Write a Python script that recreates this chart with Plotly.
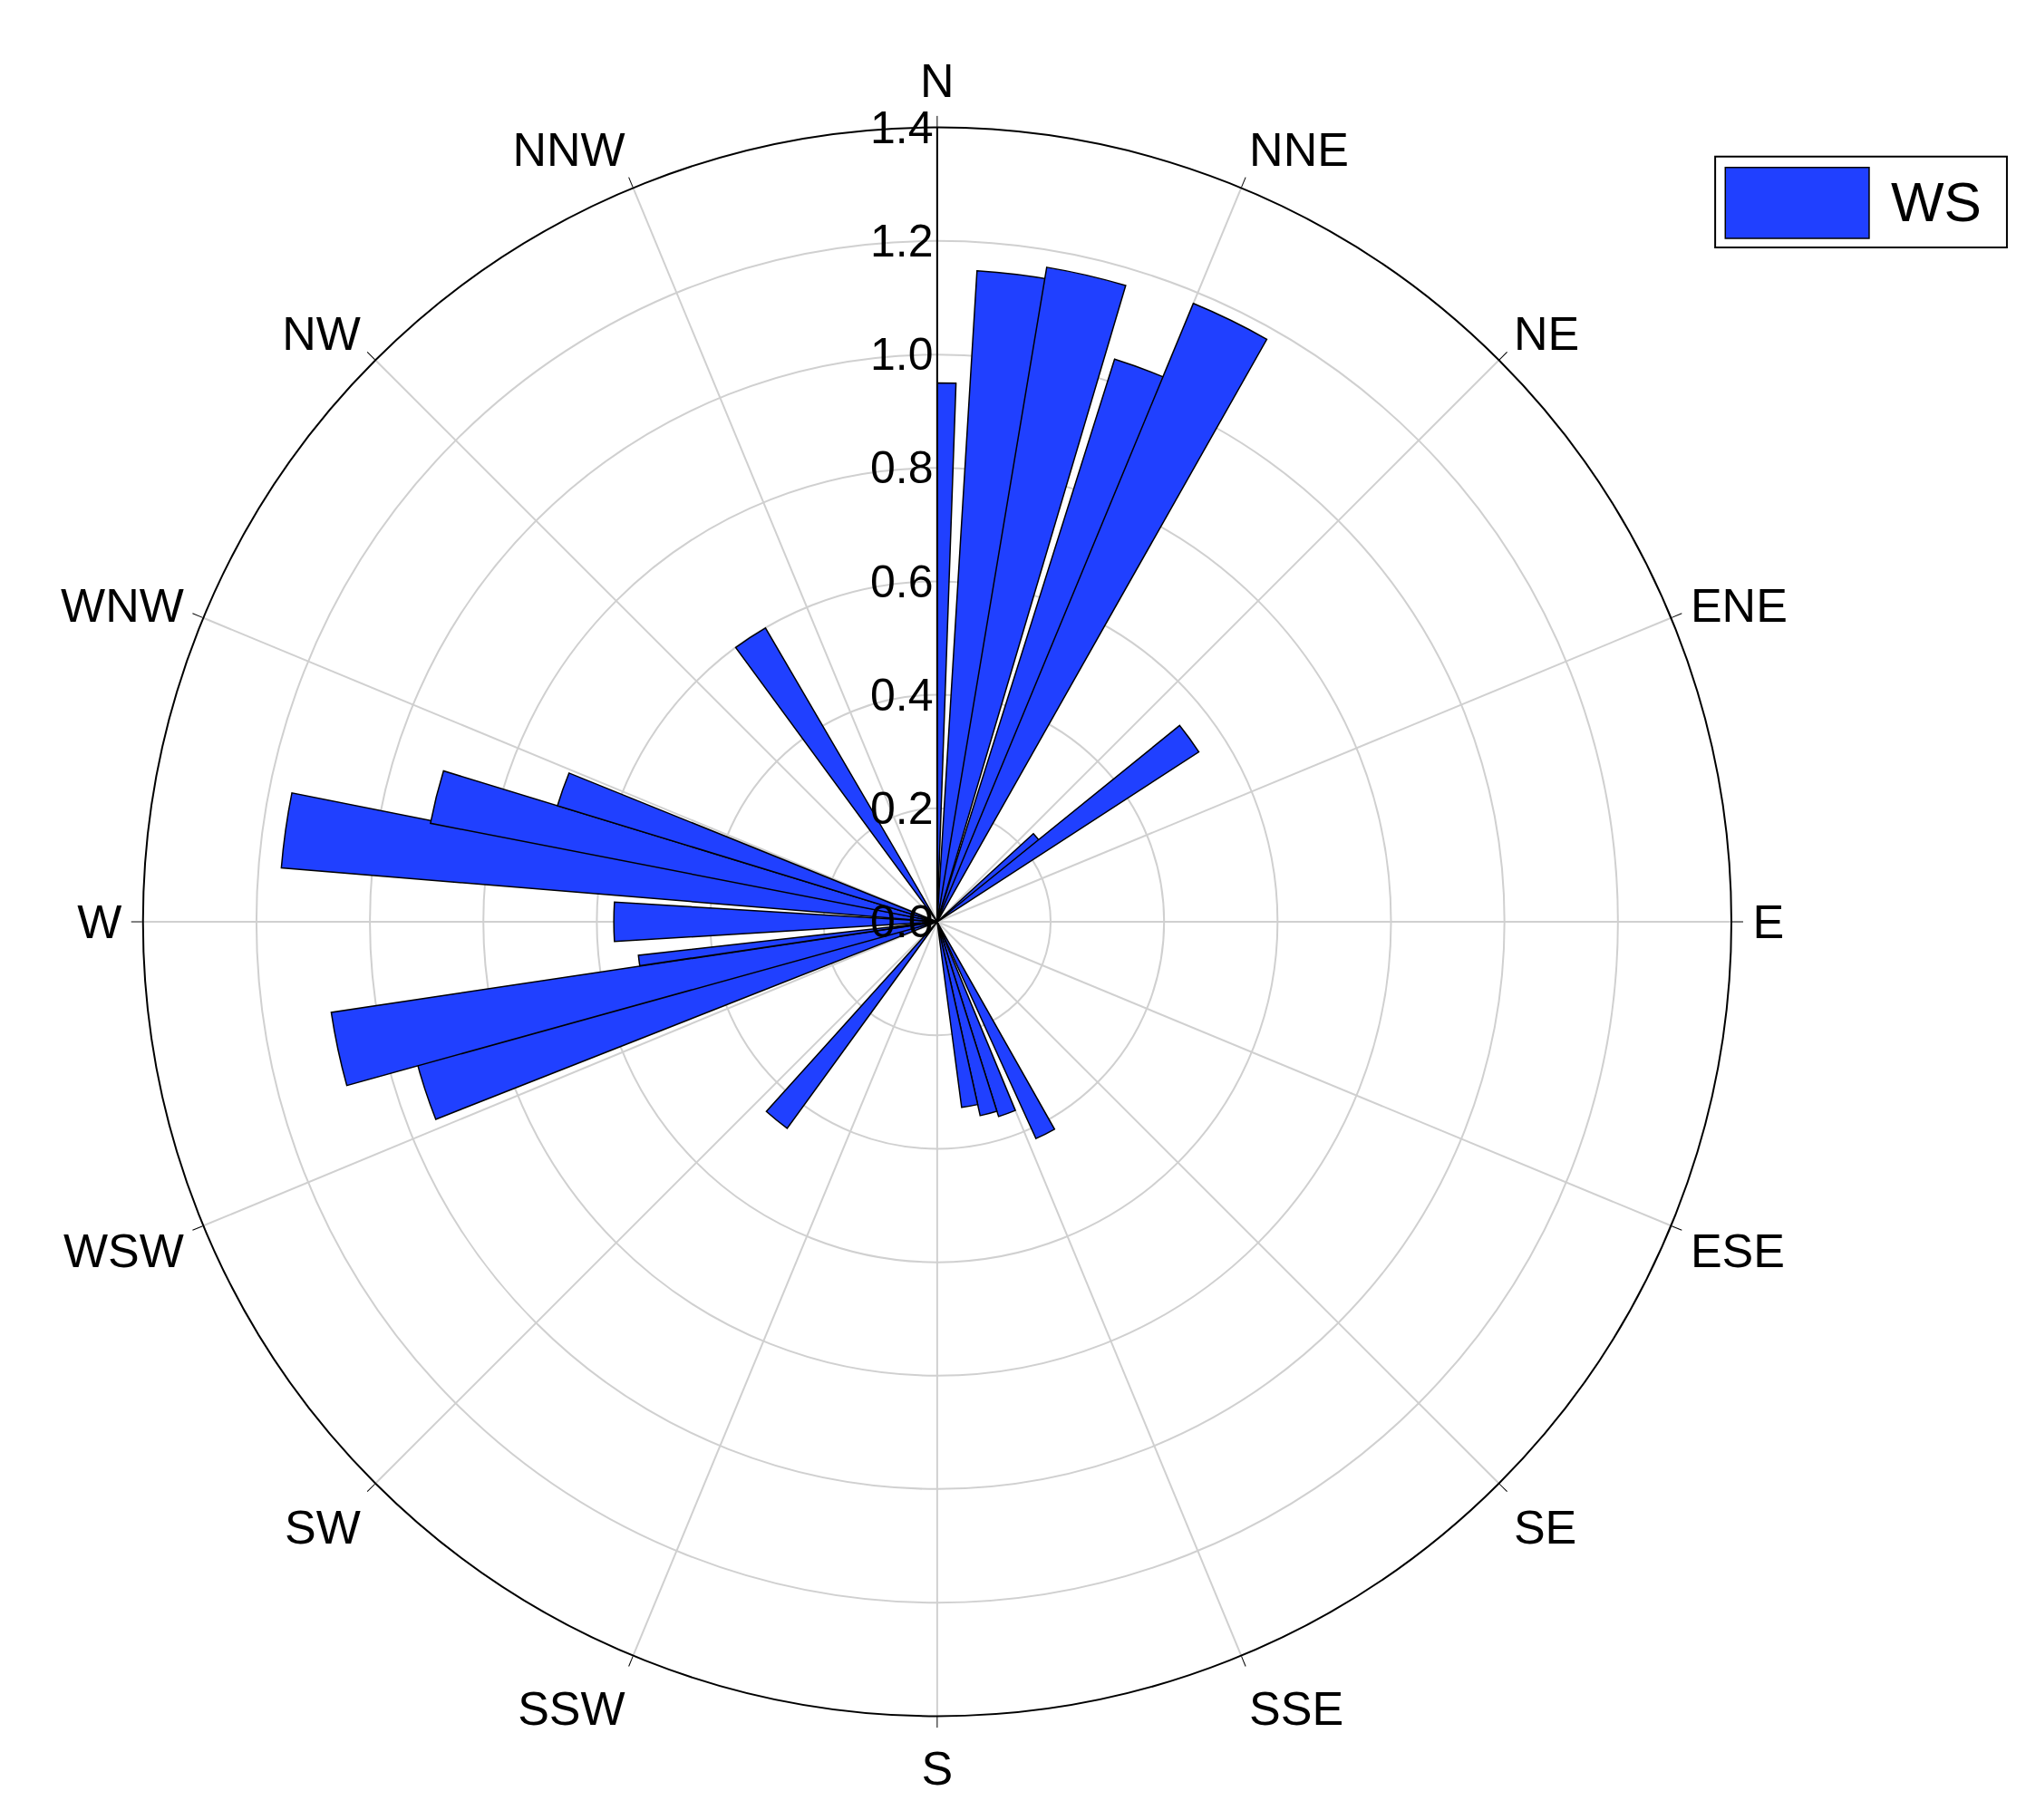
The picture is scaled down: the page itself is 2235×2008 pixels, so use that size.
import plotly.graph_objects as go

directions = [1, 7, 13, 21, 26, 50, 54, 153, 160, 165, 170, 219, 252, 258, 262.6, 270, 278, 284, 289.5, 326.7]
ws = [0.95, 1.15, 1.17, 1.04, 1.18, 0.23, 0.55, 0.42, 0.36, 0.35, 0.33, 0.45, 0.95, 1.08, 0.53, 0.57, 1.16, 0.91, 0.70, 0.60]
widths = [2, 7, 7, 7, 7, 5, 6, 5, 5, 5, 5, 6, 7, 7, 2, 7, 6.6, 6, 5, 6]
compass = ["N","NNE","NE","ENE","E","ESE","SE","SSE","S","SSW","SW","WSW","W","WNW","NW","NNW"]
compass_deg = [i*22.5 for i in range(16)]
radial_ticks = [0, 0.2, 0.4, 0.6, 0.8, 1.0, 1.2, 1.4]
RMAX = 1.4
BLUE = "#2040ff"

W, H = 2235, 2008
dx = [0.067, 0.851]
dy = [0.061, 0.934]
size = min((dx[1]-dx[0])*W, (dy[1]-dy[0])*H)
cx = (dx[0]+dx[1])/2
cy = (dy[0]+dy[1])/2
rad_y = size/2/H

fig = go.Figure(go.Barpolar(r=ws, theta=directions, width=widths, name="WS",
                            marker=dict(color=BLUE, line=dict(color="black", width=1.5)),
                            showlegend=False))
annotations = [dict(x=cx, y=cy + v/RMAX*rad_y, xref="paper", yref="paper", text=f"{v:.1f}",
                    showarrow=False, xanchor="right", yanchor="middle", xshift=-2,
                    font=dict(size=50)) for v in radial_ticks]
annotations.append(dict(x=0.929, y=0.893, xref="paper", yref="paper", text="WS", showarrow=False,
                        xanchor="left", yanchor="middle", font=dict(size=62)))
shapes = [
    dict(type="rect", xref="paper", yref="paper", x0=0.843, x1=0.987, y0=0.868, y1=0.918,
         line=dict(color="black", width=2), fillcolor="white"),
    dict(type="rect", xref="paper", yref="paper", x0=0.848, x1=0.919, y0=0.873, y1=0.912,
         line=dict(color="black", width=1.5), fillcolor=BLUE),
]
fig.update_layout(
    width=W, height=H, paper_bgcolor="white", margin=dict(l=0, r=0, t=0, b=0),
    font=dict(family="Liberation Sans, Arial", size=50, color="black"),
    annotations=annotations, shapes=shapes,
    polar=dict(
        domain=dict(x=dx, y=dy),
        bgcolor="white", bargap=0,
        angularaxis=dict(direction="clockwise", rotation=90, tickmode="array",
                         tickvals=compass_deg, ticktext=compass, showline=True,
                         linecolor="black", linewidth=2, ticks="outside", ticklen=12,
                         tickcolor="black", gridcolor="#d0d0d0", gridwidth=1.5,
                         tickfont=dict(size=52)),
        radialaxis=dict(range=[0, RMAX], tickvals=radial_ticks, showticklabels=False,
                        angle=90, showline=True, linecolor="black", linewidth=2,
                        ticks="", gridcolor="#d0d0d0", gridwidth=1.5),
    ),
)
fig.write_html("out.html")
